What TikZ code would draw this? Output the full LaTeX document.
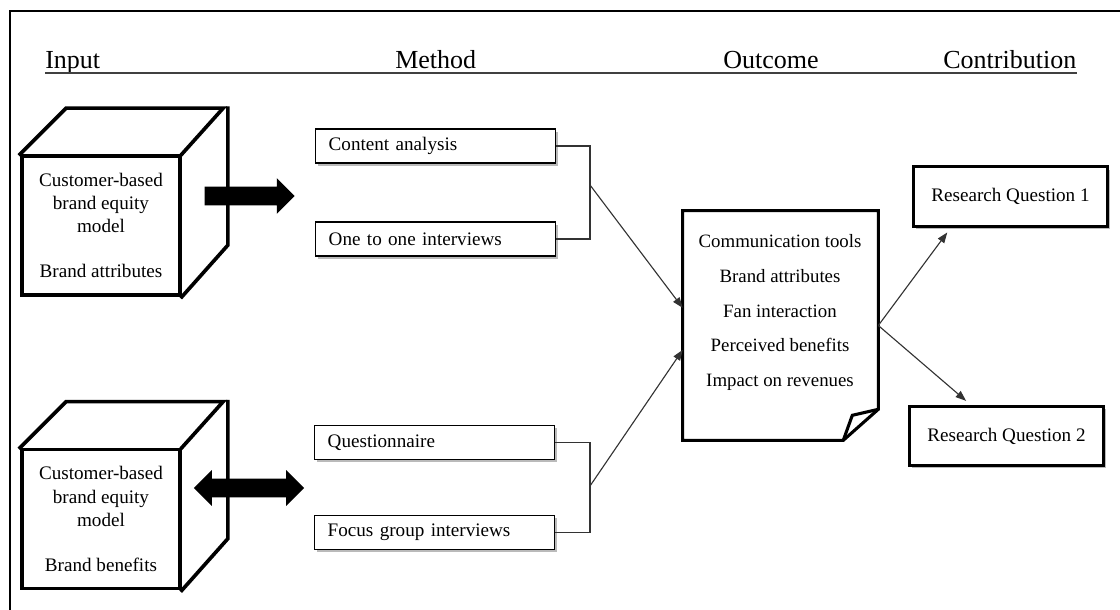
\documentclass[tikz,border=0pt]{standalone}
\usepackage{fontspec}
\setmainfont{Liberation Serif}
\usetikzlibrary{arrows.meta,shapes.arrows,shadows}

\begin{document}
\begin{tikzpicture}[x=0.025cm, y=-0.025cm,
    headtitle/.style={inner sep=0pt, font=\fontsize{18.5pt}{22pt}\selectfont},
    cubeface/.style={draw, line width=2.6pt, minimum width=3.95cm, minimum height=3.475cm, inner sep=0pt, align=center, font=\fontsize{13.6pt}{16.6pt}\selectfont},
    cubeline/.style={line width=2.6pt, line cap=rect},
    methodbox/.style={draw, line width=1pt, fill=white, minimum width=6cm, minimum height=0.85cm, text width=5.35cm, inner xsep=0.325cm, align=left, font=\fontsize{13.6pt}{16.6pt}\selectfont, drop shadow={shadow xshift=1.5pt, shadow yshift=-2pt, fill=black!45, opacity=0.6}},
    rqbox/.style={draw, line width=2.2pt, fill=white, minimum width=4.85cm, minimum height=1.48cm, font=\fontsize{13.6pt}{16.6pt}\selectfont, drop shadow={shadow xshift=1.5pt, shadow yshift=-2pt, fill=black!45, opacity=0.6}},
    blockarrow/.style={fill=black, inner sep=0.225cm},
    link/.style={line width=0.8pt, black!80},
    tip/.style={-{Triangle[length=7.5pt,width=5.5pt]}}]

    \useasboundingbox (0,0) rectangle (1120,610);

    \draw[line width=1pt] (10,610) -- (10,11) -- (1120,11);

    \node[headtitle, anchor=base west] (input) at (45,69) {Input};
    \node[headtitle, anchor=base west] (method) at (395,69) {Method};
    \node[headtitle, anchor=base west] (outcomehead) at (723,69) {Outcome};
    \node[headtitle, anchor=base west] (contribution) at (943,69) {Contribution};
    \draw[line width=1.4pt, black!75] ([yshift=-0.09cm]input.base west) -- ([yshift=-0.09cm]contribution.base east);

    \node[cubeface] (cubeA) at (101,225.5) {Customer-based\\brand equity\\model\\[0.54cm]Brand attributes};
    \draw[cubeline] (cubeA.north west) -- ++(46,-46) -- ++(157,0) -- (cubeA.north east);
    \draw[cubeline] (cubeA.north east) ++(46,-46) -- ++(0,137) -- (cubeA.south east);

    \node[cubeface] (cubeB) at (101,519) {Customer-based\\brand equity\\model\\[0.54cm]Brand benefits};
    \draw[cubeline] (cubeB.north west) -- ++(46,-46) -- ++(157,0) -- (cubeB.north east);
    \draw[cubeline] (cubeB.north east) ++(46,-46) -- ++(0,137) -- (cubeB.south east);

    \node[blockarrow, single arrow, single arrow head extend=0.2125cm, minimum height=2.25cm, anchor=tip] (pushA) at (295,196) {};
    \node[blockarrow, double arrow, double arrow head extend=0.2125cm, minimum height=2.75cm] (pushB) at (249,488) {};

    \node[methodbox, anchor=west] (content) at (315,146) {Content analysis};
    \node[methodbox, anchor=west] (oneone) at (315,239) {One to one interviews};
    \node[methodbox, anchor=west] (questionnaire) at (314,442.5) {Questionnaire};
    \node[methodbox, anchor=west] (focus) at (314,532.5) {Focus group interviews};

    \node[minimum width=4.875cm, minimum height=5.725cm, inner sep=0pt] (outcome) at (780.5,325.5) {};
    \draw[line width=2.2pt] (outcome.north west) -- (outcome.north east) -- ([yshift=0.775cm]outcome.south east) -- ([xshift=-0.875cm]outcome.south east) -- (outcome.south west) -- cycle;
    \draw[line width=2.2pt] ([yshift=0.775cm]outcome.south east) -- ([xshift=-0.65cm,yshift=0.625cm]outcome.south east) -- ([xshift=-0.875cm]outcome.south east);
    \node[align=center, font=\fontsize{13.4pt}{24.8pt}\selectfont] (outcometext) at (780,312.5) {Communication tools\\Brand attributes\\Fan interaction\\Perceived benefits\\Impact on revenues};

    \node[rqbox] (rq1) at (1010.5,196.5) {Research Question 1};
    \node[rqbox] (rq2) at (1006.5,436) {Research Question 2};

    \coordinate (brA) at (590,185);
    \coordinate (brB) at (590,486);
    \draw[link] (content.east) -| (brA) |- (oneone.east);
    \draw[link] (questionnaire.east) -| (brB) |- (focus.east);
    \draw[link, tip] (brA) -- ([yshift=0.44cm]outcome.west);
    \draw[link, tip] (brB) -- ([yshift=-0.61cm]outcome.west);

    \draw[link, tip] (outcome.east) -- ([xshift=-1.58cm,yshift=-0.12cm]rq1.south);
    \draw[link, tip] (outcome.east) -- ([xshift=-1.01cm,yshift=0.1cm]rq2.north);

\end{tikzpicture}
\end{document}
